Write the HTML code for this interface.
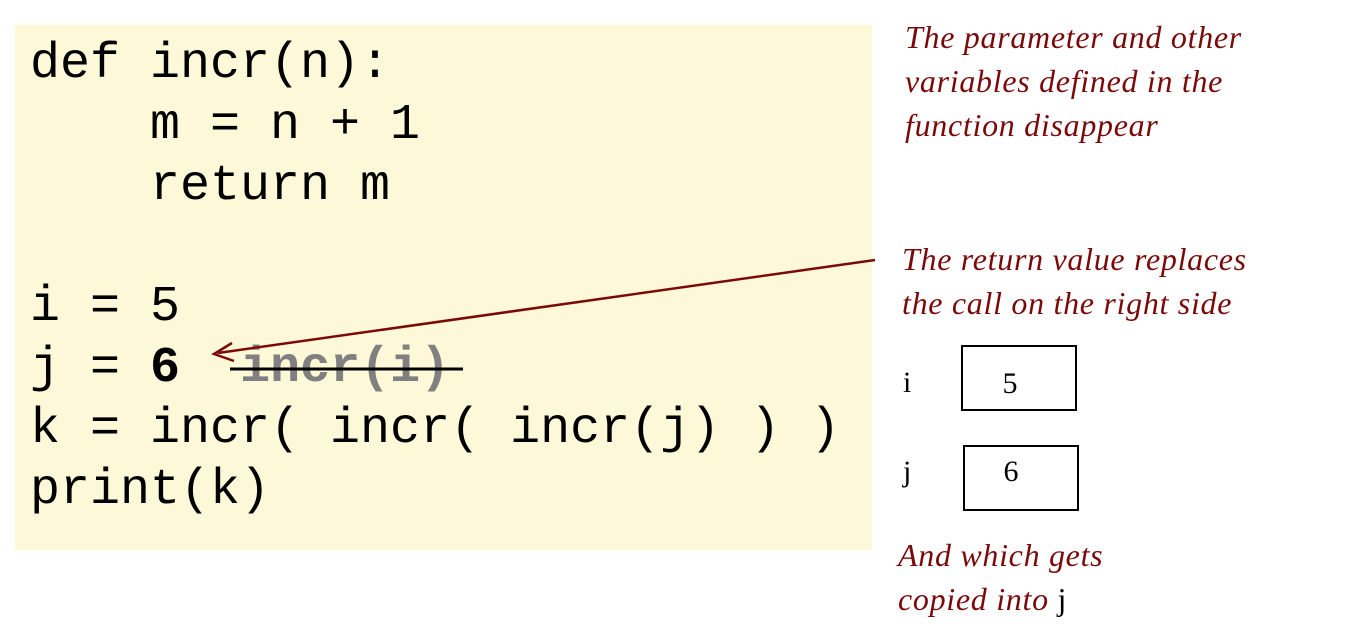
<!DOCTYPE html>
<html><head><style>
body{margin:0;width:1371px;height:643px;background:#fff;position:relative;overflow:hidden}
.code{position:absolute;left:15px;top:25px;width:857px;height:525px;background:#fdf8d7}
.l{position:absolute;left:30px;font-family:"Liberation Mono",monospace;font-size:50px;line-height:50px;white-space:pre;color:#000}
.t{position:absolute;font-family:"Liberation Serif",serif;font-style:italic;font-size:32px;letter-spacing:0.7px;color:#7a0a0a;line-height:44px;white-space:pre}
.r{position:absolute;font-family:"Liberation Serif",serif;font-size:30px;color:#000}
.box{position:absolute;border:2px solid #000;box-sizing:border-box;font-family:"Liberation Serif",serif;font-size:30px;text-align:center}
</style></head><body>
<div class="code"></div>
<div class="l" style="top:40px">def incr(n):</div>
<div class="l" style="top:101px">    m = n + 1</div>
<div class="l" style="top:162px">    return m</div>
<div class="l" style="top:283px">i = 5</div>
<div class="l" style="top:344px">j = <b>6</b>  <b style="color:#808080">incr(i)</b></div>
<div class="l" style="top:405px">k = incr( incr( incr(j) ) )</div>
<div class="l" style="top:466px">print(k)</div>
<svg width="1371" height="643" style="position:absolute;left:0;top:0">
<line x1="230" y1="369" x2="463" y2="369" stroke="#000" stroke-width="3"/>
<line x1="875" y1="260" x2="218" y2="353" stroke="#7a0a0a" stroke-width="2.5"/>
<path d="M232 343 L214 354 L234 361" fill="none" stroke="#7a0a0a" stroke-width="2.5"/>
</svg>
<div class="t" style="left:905px;top:15px">The parameter and other
variables defined in the
function disappear</div>
<div class="t" style="left:902px;top:237px">The return value replaces
the call on the right side</div>
<div class="t" style="left:898px;top:533px">And which gets
copied into <span style="font-style:normal;color:#000">j</span></div>
<div class="r" style="left:903px;top:366px">i</div>
<div class="r" style="left:903px;top:455px">j</div>
<div class="box" style="left:961px;top:345px;width:116px;height:66px;line-height:74px;text-indent:-18px">5</div>
<div class="box" style="left:963px;top:445px;width:116px;height:66px;line-height:50px;text-indent:-20px">6</div>
</body></html>
